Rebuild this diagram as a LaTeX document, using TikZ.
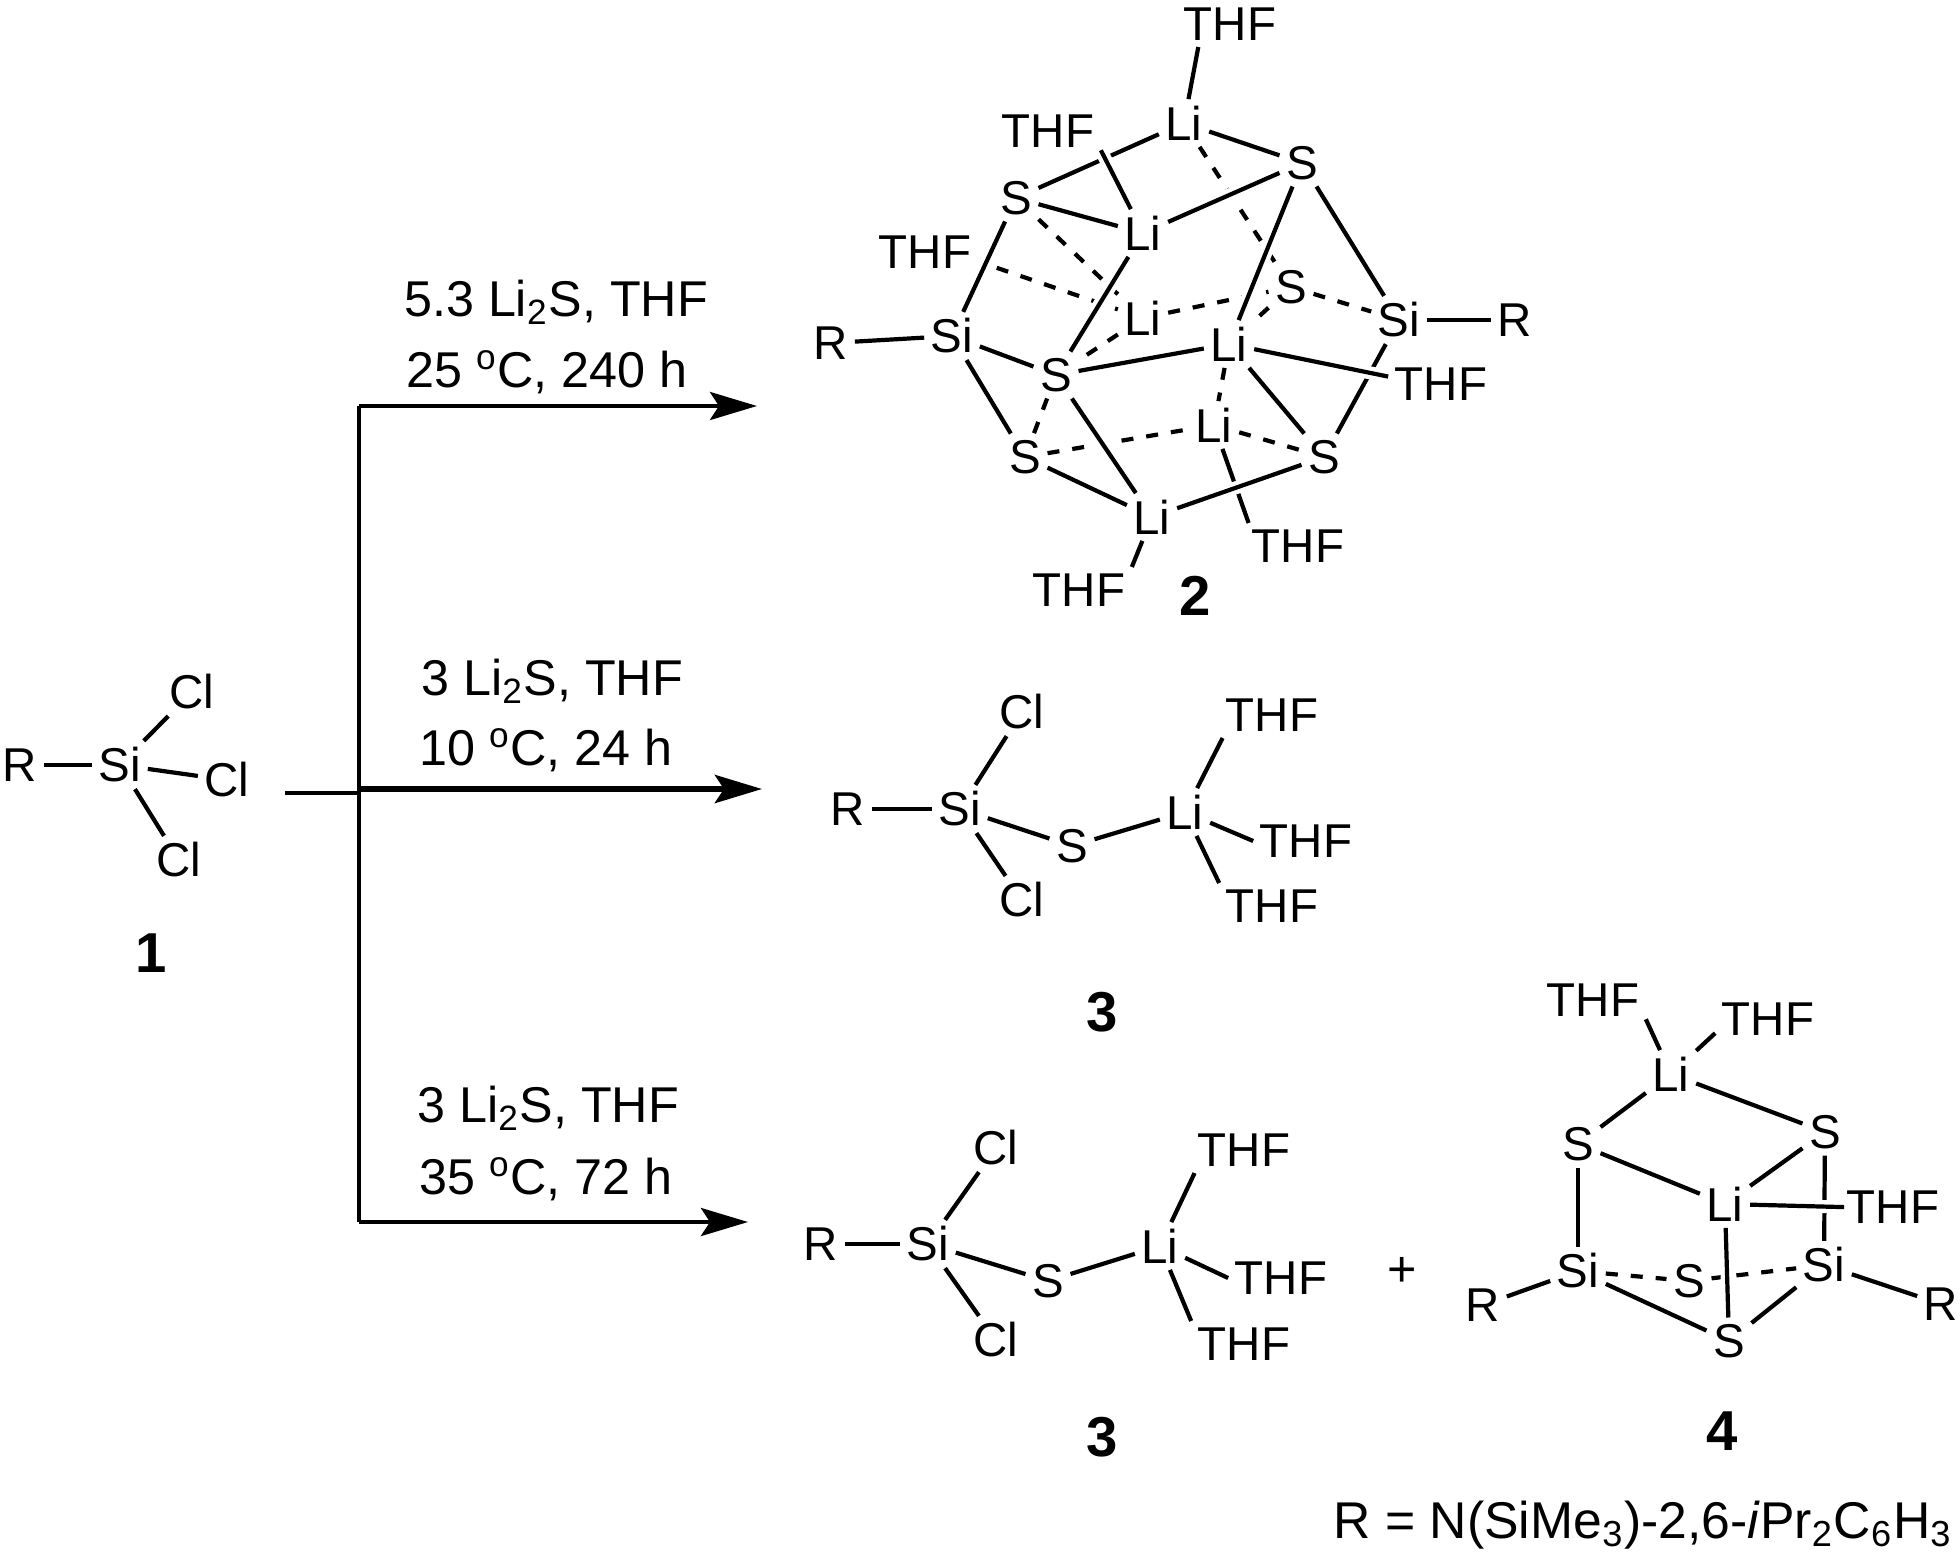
\documentclass[tikz,border=0pt]{standalone}
\usepackage{fontspec}
\setmainfont{Liberation Sans}
\usetikzlibrary{arrows.meta,backgrounds}

\tikzset{
	atom/.style={inner sep=0.06cm, font=\fontsize{13.5}{16}\selectfont},
	cond/.style={inner sep=0pt, font=\fontsize{14.3}{16}\selectfont},
	num/.style={inner sep=0pt, font=\fontsize{16}{18}\selectfont\bfseries},
	bond/.style={line width=0.042cm, preaction={draw, white, line width=0.13cm}},
	dbond/.style={line width=0.042cm, dash pattern=on 0.12cm off 0.13cm},
	rline/.style={line width=0.042cm},
	rarrow/.style={line width=0.042cm, -{Stealth[length=0.47cm, width=0.28cm, inset=0.09cm]}},
}

\begin{document}
\begin{tikzpicture}[x=0.01cm, y=-0.01cm]
	\useasboundingbox (0,0) rectangle (1960,1557);

	% starting material 1
	\node[atom] (r1) at (20,765) {R};
	\node[atom] (si1) at (120,765) {Si};
	\node[atom] (cl1a) at (192,692) {Cl};
	\node[atom] (cl1b) at (227,780) {Cl};
	\node[atom] (cl1c) at (179,860) {Cl};
	\node[num] (n1) at (151,953) {1};

	% reaction lines
	\coordinate (stub) at (285,793);
	\coordinate (jm) at (359,793);
	\coordinate (jt) at (359,406);
	\coordinate (jb) at (359,1222);
	\coordinate (jc) at (359,789);
	\coordinate (endt) at (757,406);
	\coordinate (endm) at (762,789);
	\coordinate (endb) at (748,1222);

	\node[cond] (c1a) at (556,302) {5.3 Li\textsubscript{2}S, THF};
	\node[cond] (c1b) at (547,372) {25 \textsuperscript{o}C, 240 h};
	\node[cond] (c2a) at (552,681) {3 Li\textsubscript{2}S, THF};
	\node[cond] (c2b) at (546,750) {10 \textsuperscript{o}C, 24 h};
	\node[cond] (c3a) at (548,1108) {3 Li\textsubscript{2}S, THF};
	\node[cond] (c3b) at (546,1179) {35 \textsuperscript{o}C, 72 h};

	% product 2
	\node[atom] (thfa) at (1230,24) {THF};
	\node[atom] (lia) at (1184,123) {Li};
	\node[atom] (sa) at (1302,163) {S};
	\node[atom] (thfb) at (1048,131) {THF};
	\node[atom] (sb) at (1016,198) {S};
	\node[atom] (lib) at (1143,233) {Li};
	\node[atom] (thfc) at (925,252) {THF};
	\node[atom] (lic) at (1143,318) {Li};
	\node[atom] (sc) at (1291,287) {S};
	\node[atom] (sir) at (1399,320) {Si};
	\node[atom] (rr) at (1515,320) {R};
	\node[atom] (sil) at (952,336) {Si};
	\node[atom] (rl) at (831,343) {R};
	\node[atom] (sd) at (1056,375) {S};
	\node[atom] (lid) at (1229,344) {Li};
	\node[atom] (thfd) at (1441,384) {THF};
	\node[atom] (se) at (1025,457) {S};
	\node[atom] (lie) at (1214,425) {Li};
	\node[atom] (sf) at (1324,457) {S};
	\node[atom] (lif) at (1152,517) {Li};
	\node[atom] (thfe) at (1298,546) {THF};
	\node[atom] (thff) at (1079,590) {THF};
	\node[num] (n2) at (1195,596) {2};

	% product 3, middle
	\node[atom] (r3) at (848,809) {R};
	\node[atom] (si3) at (960,809) {Si};
	\node[atom] (cl3a) at (1022,712) {Cl};
	\node[atom] (cl3b) at (1022,900) {Cl};
	\node[atom] (s3) at (1072,846) {S};
	\node[atom] (li3) at (1185,812) {Li};
	\node[atom] (thf3a) at (1272,715) {THF};
	\node[atom] (thf3b) at (1306,841) {THF};
	\node[atom] (thf3c) at (1272,906) {THF};
	\node[num] (n3) at (1102,1012) {3};

	% product 3, bottom
	\node[atom] (rq) at (821,1244) {R};
	\node[atom] (siq) at (928,1244) {Si};
	\node[atom] (clqa) at (996,1148) {Cl};
	\node[atom] (clqb) at (996,1340) {Cl};
	\node[atom] (sq) at (1048,1281) {S};
	\node[atom] (liq) at (1160,1246) {Li};
	\node[atom] (thfqa) at (1244,1150) {THF};
	\node[atom] (thfqb) at (1281,1278) {THF};
	\node[atom] (thfqc) at (1244,1344) {THF};
	\node[num] (nq) at (1102,1437) {3};
	\node[cond] (plus) at (1402,1272) {+};

	% product 4
	\node[atom] (thf4a) at (1593,1000) {THF};
	\node[atom] (thf4b) at (1768,1019) {THF};
	\node[atom] (li4a) at (1671,1074) {Li};
	\node[atom] (s4a) at (1578,1144) {S};
	\node[atom] (s4b) at (1825,1132) {S};
	\node[atom] (li4b) at (1725,1204) {Li};
	\node[atom] (thf4c) at (1893,1207) {THF};
	\node[atom] (si4a) at (1578,1271) {Si};
	\node[atom] (si4b) at (1824,1265) {Si};
	\node[atom] (s4c) at (1689,1281) {S};
	\node[atom] (s4d) at (1729,1341) {S};
	\node[atom] (r4a) at (1483,1305) {R};
	\node[atom] (r4b) at (1941,1304) {R};
	\node[num] (n4) at (1722,1431) {4};

	\node[cond, anchor=east, font=\fontsize{14.7}{16}\selectfont] (rdef) at (1953,1525) {R = N(SiMe\textsubscript{3})-2,6-\textit{i}Pr\textsubscript{2}C\textsubscript{6}H\textsubscript{3}};

	\begin{scope}[on background layer]
		\draw[rline] (stub) -- (jm);
		\draw[rline] (jt) -- (jb);
		\draw[rarrow] (jt) -- (endt);
		\draw[rarrow, line width=0.06cm] (jc) -- (endm);
		\draw[rarrow] (jb) -- (endb);

		\draw (r1) edge[rline] (si1);
		\draw (si1) edge[rline] (cl1a);
		\draw (si1) edge[rline] (cl1b);
		\draw (si1) edge[rline] (cl1c);

		% back of 2
		\draw (lia) edge[dbond] (sc);
		\draw (sb) edge[dbond] (lic);
		\draw (thfc.350) edge[dbond, shorten <=0.2cm] (lic);
		\draw (lic) edge[dbond] (sc);
		\draw (sc) edge[dbond] (sir);
		\draw (sc) edge[dbond] (lid);
		\draw (lid) edge[dbond] (lie);
		\draw (lic) edge[dbond] (sd);
		\draw (sd) edge[dbond] (se);
		\draw (se) edge[dbond] (lie);
		\draw (lie) edge[dbond] (sf);

		% front of 2
		\draw (thfa.216) edge[bond] (lia);
		\draw (lia) edge[bond] (sa);
		\draw (lia) edge[bond] (sb);
		\draw (sb) edge[bond] (lib);
		\draw (thfb.340) edge[bond] (lib);
		\draw (lib) edge[bond] (sa);
		\draw (sb) edge[bond] (sil);
		\draw (lib) edge[bond] (sd);
		\draw (sil) edge[bond] (rl);
		\draw (sil) edge[bond] (sd);
		\draw (sil) edge[bond] (se);
		\draw (sd) edge[bond] (lid);
		\draw (sd) edge[bond] (lif);
		\draw (se) edge[bond] (lif);
		\draw (lie) edge[bond] (thfe.155);
		\draw (lif) edge[bond] (sf);
		\draw (lif) edge[bond] (thff.north east);
		\draw (sa) edge[bond] (sir);
		\draw (sa) edge[bond] (lid);
		\draw (sir) edge[bond] (rr);
		\draw (sir) edge[bond] (sf);
		\draw (lid) edge[bond] (thfd.172);
		\draw (lid) edge[bond] (sf);

		% 3, middle
		\draw (r3) edge[rline] (si3);
		\draw (si3) edge[rline] (cl3a);
		\draw (si3) edge[rline] (cl3b);
		\draw (si3) edge[rline] (s3);
		\draw (s3) edge[rline] (li3);
		\draw (li3) edge[rline] (thf3a.205);
		\draw (li3) edge[rline] (thf3b.west);
		\draw (li3) edge[rline] (thf3c.north west);

		% 3, bottom
		\draw (rq) edge[rline] (siq);
		\draw (siq) edge[rline] (clqa);
		\draw (siq) edge[rline] (clqb);
		\draw (siq) edge[rline] (sq);
		\draw (sq) edge[rline] (liq);
		\draw (liq) edge[rline] (thfqa.205);
		\draw (liq) edge[rline] (thfqb.west);
		\draw (liq) edge[rline] (thfqc.north west);

		% 4
		\draw (si4a) edge[dbond] (s4c);
		\draw (s4c) edge[dbond] (si4b);
		\draw (thf4a.340) edge[bond] (li4a);
		\draw (thf4b.195) edge[bond] (li4a);
		\draw (li4a) edge[bond] (s4a);
		\draw (li4a) edge[bond] (s4b);
		\draw (s4a) edge[bond] (li4b);
		\draw (s4b) edge[bond] (li4b);
		\draw (s4a) edge[bond] (si4a);
		\draw (s4b) edge[bond] (si4b);
		\draw (li4b) edge[bond, shorten >=-0.04cm] (thf4c.west);
		\draw (li4b) edge[bond] (s4d);
		\draw (si4a) edge[bond] (r4a);
		\draw (si4a) edge[bond] (s4d);
		\draw (si4b) edge[bond] (s4d);
		\draw (si4b) edge[bond] (r4b);
	\end{scope}
\end{tikzpicture}
\end{document}
